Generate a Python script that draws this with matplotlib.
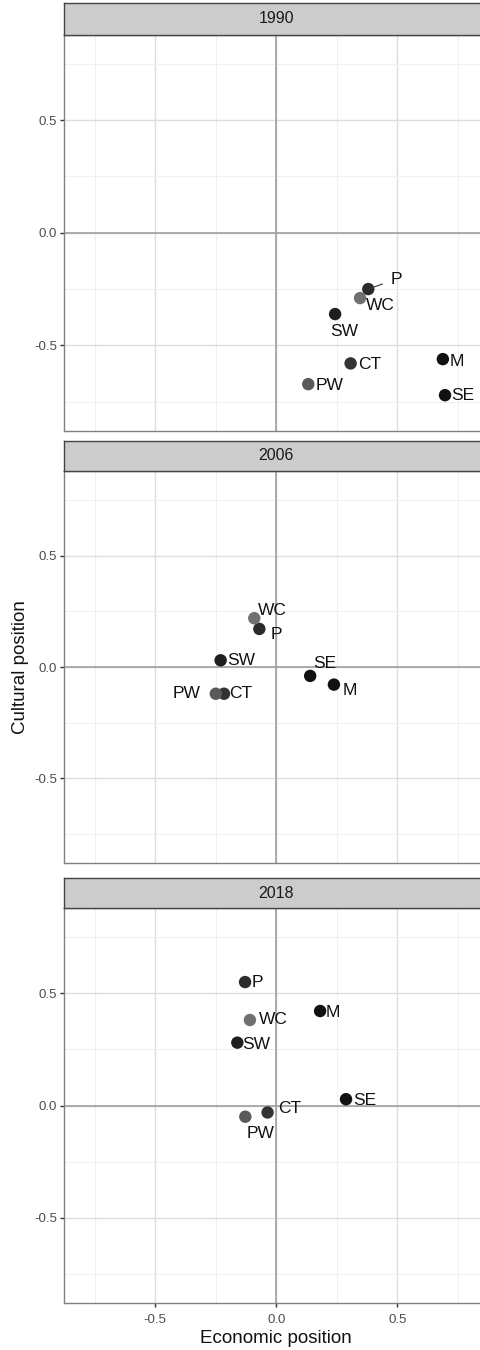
import numpy as np
import matplotlib.pyplot as plt

plt.rcParams['font.family'] = ['Liberation Sans', 'DejaVu Sans']

years = ['1990', '2006', '2018']
parties = ['P', 'WC', 'SW', 'CT', 'PW', 'M', 'SE']

econ_1990 = [0.38, 0.346, 0.243, 0.307, 0.132, 0.688, 0.697]
cult_1990 = [-0.25, -0.29, -0.361, -0.58, -0.672, -0.561, -0.721]
econ_2006 = [-0.07, -0.091, -0.23, -0.216, -0.25, 0.238, 0.14]
cult_2006 = [0.171, 0.219, 0.03, -0.12, -0.12, -0.079, -0.04]
econ_2018 = [-0.129, -0.109, -0.161, -0.036, -0.128, 0.181, 0.288]
cult_2018 = [0.55, 0.381, 0.28, -0.031, -0.05, 0.421, 0.028]

econ = [econ_1990, econ_2006, econ_2018]
cult = [cult_1990, cult_2006, cult_2018]

# point colours by party
party_col = {'P': '#2b2b2b', 'WC': '#707070', 'SW': '#1f1f1f', 'CT': '#333333',
             'PW': '#5a5a5a', 'M': '#111111', 'SE': '#111111'}

# label placement (pixel offsets from the point, like ggrepel did)
nudge = [
    {'P': (28, 10), 'WC': (20, -7), 'SW': (9, -17), 'CT': (19, -1),
     'PW': (21, -1), 'M': (14, -2), 'SE': (18, 0)},
    {'P': (17, -6), 'WC': (18, 8), 'SW': (21, 0), 'CT': (17, 0),
     'PW': (-29, 0), 'M': (16, -6), 'SE': (15, 12)},
    {'P': (12, 0), 'WC': (23, 0), 'SW': (19, -2), 'CT': (22, 4),
     'PW': (15, -17), 'M': (13, -1), 'SE': (19, -1)},
]

W, H = 481, 1350
fig = plt.figure(figsize=(W / 100, H / 100), dpi=100)

left = 64 / W
width = 424.6 / W
panels = [(34.5, 431), (471, 863), (908, 1303)]
strips = [(3, 34.5), (441, 471), (878, 908)]

ticks = [-0.5, 0.0, 0.5]
minor = [-0.75, -0.25, 0.25, 0.75]

for i, yr in enumerate(years):
    top, bot = panels[i]
    ax = fig.add_axes([left, 1 - bot / H, width, (bot - top) / H])
    ax.set_xlim(-0.877, 0.877)
    ax.set_ylim(-0.88, 0.88)
    ax.set_xticks(ticks)
    ax.set_yticks(ticks)
    ax.set_xticks(minor, minor=True)
    ax.set_yticks(minor, minor=True)
    ax.grid(which='major', color='#dddddd', lw=1.0)
    ax.grid(which='minor', color='#f0f0f0', lw=0.8)
    ax.set_axisbelow(True)
    ax.axhline(0, color='#a0a0a0', lw=1.2, zorder=1)
    ax.axvline(0, color='#a0a0a0', lw=1.2, zorder=1)
    for s in ax.spines.values():
        s.set_color('#808080')
        s.set_linewidth(1.0)
    ax.tick_params(which='major', length=3, width=1, color='#333333',
                   labelsize=9.5, labelcolor='#4d4d4d', pad=2)
    ax.tick_params(axis='x', pad=5)
    ax.tick_params(which='minor', length=0)
    ax.set_yticklabels(['-0.5', '0.0', '0.5'])
    if i < 2:
        ax.tick_params(axis='x', which='both', length=0, labelbottom=False)
    else:
        ax.set_xticklabels(['-0.5', '0.0', '0.5'])
        ax.set_xlabel('Economic position', fontsize=13.5, color='#111111', labelpad=3)
    if i == 1:
        ax.set_ylabel('Cultural position', fontsize=13.5, color='#111111', labelpad=4)

    cols = [party_col[p] for p in parties]
    ax.scatter(econ[i], cult[i], s=80, c=cols, edgecolors='none', zorder=3)
    for p, x, y in zip(parties, econ[i], cult[i]):
        dx, dy = nudge[i][p]
        arrow = None
        if i == 0 and p == 'P':
            arrow = dict(arrowstyle='-', color='#333333', lw=0.8,
                         shrinkA=4, shrinkB=1)
        ax.annotate(p, (x, y), xytext=(dx, dy), textcoords='offset pixels',
                    ha='center', va='center', fontsize=12.5, color='#111111',
                    arrowprops=arrow, zorder=4)

    stop, sbot = strips[i]
    sax = fig.add_axes([left, 1 - sbot / H, width, (sbot - stop) / H])
    sax.set_facecolor('#cccccc')
    sax.set_xticks([])
    sax.set_yticks([])
    for s in sax.spines.values():
        s.set_color('#444444')
        s.set_linewidth(1.0)
    sax.text(0.5, 0.5, yr, transform=sax.transAxes, ha='center', va='center',
             fontsize=11.5, color='#1a1a1a')

fig.savefig('out.png', dpi=100)
